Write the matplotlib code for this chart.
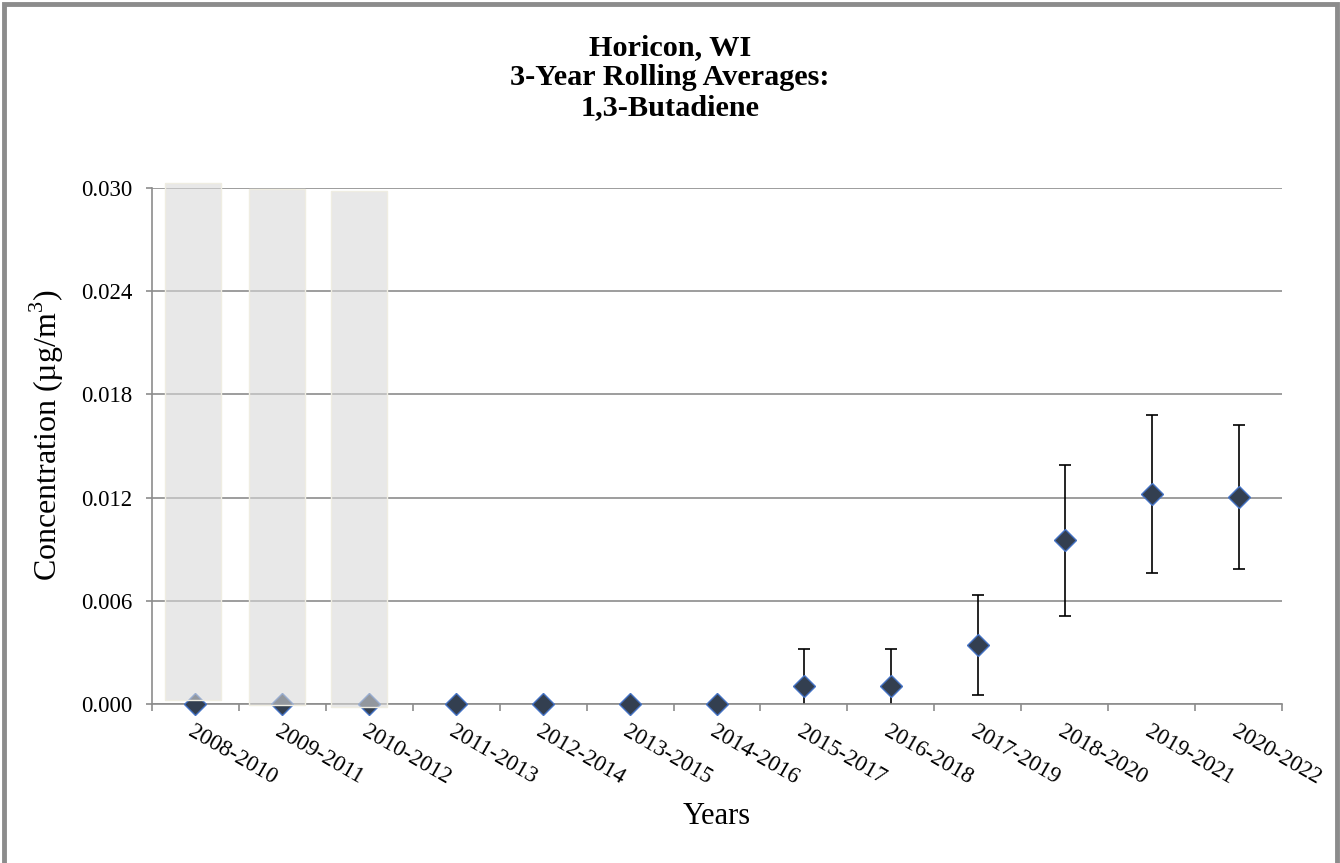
import numpy as np
import matplotlib.pyplot as plt
from matplotlib.patches import Rectangle

plt.rcParams['font.family'] = ['Liberation Serif', 'DejaVu Serif']
plt.rcParams['mathtext.fontset'] = 'custom'
plt.rcParams['mathtext.rm'] = 'Liberation Serif'

# data
periods = ['2008-2010', '2009-2011', '2010-2012', '2011-2013', '2012-2014',
           '2013-2015', '2014-2016', '2015-2017', '2016-2018', '2017-2019',
           '2018-2020', '2019-2021', '2020-2022']
averages = [0.0, 0.0, 0.0, 0.0, 0.0, 0.0, 0.0,
            0.00106, 0.00106, 0.00343, 0.00951, 0.01221, 0.01204]
errors = [0.0, 0.0, 0.0, 0.0, 0.0, 0.0, 0.0,
          0.00212, 0.00212, 0.0029, 0.0044, 0.0046, 0.0042]

# grey boxes over the first three periods (centre in category units, bottom, top)
box_pos = [-0.03, 0.94, 1.88]
box_bottom = [0.00025, -0.00006, -0.0002]
box_top = [0.0303, 0.02995, 0.0298]
yticks = [0.000, 0.006, 0.012, 0.018, 0.024, 0.030]

grey = '#8C8C8C'

fig = plt.figure(figsize=(13.4, 8.63), dpi=100)
ax = fig.add_axes([0.1134, 0.1842, 0.8433, 0.598])

x = np.arange(len(periods))
avg = np.array(averages)
err = np.array(errors)
has_err = err > 0

ax.errorbar(x[has_err], avg[has_err], yerr=err[has_err], fmt='none',
            ecolor='black', elinewidth=1.2, capsize=4.5, capthick=1.2, zorder=2)
ax.plot(x, avg, linestyle='none', marker='D', markersize=11,
        markerfacecolor='#333F50', markeredgecolor='#4472C4',
        markeredgewidth=1.0, zorder=3, clip_on=False)

heights = np.array(box_top) - np.array(box_bottom)
ax.bar(box_pos, heights, bottom=box_bottom, width=0.65,
       color=(0.847, 0.847, 0.847, 0.58), edgecolor='#EFEDE2',
       linewidth=1.0, zorder=4, clip_on=False)

ax.set_xlim(-0.5, len(periods) - 0.5)
ax.set_ylim(0, 0.030)
ax.set_yticks(yticks)
ax.set_yticklabels([f'{v:.3f}' for v in yticks], fontsize=16.5)
ax.set_xticks(x)
ax.set_xticklabels(periods, rotation=-30, ha='left', va='top',
                   rotation_mode='anchor', fontsize=16.5)
ax.set_xticks(np.arange(-0.5, len(periods)), minor=True)
ax.tick_params(axis='x', which='major', length=0, pad=12)
ax.tick_params(axis='x', which='minor', length=5, color=grey, width=1.2)
ax.tick_params(axis='y', length=4, color=grey, width=1.2, pad=10)

ax.grid(axis='y', color=grey, linewidth=1.2, zorder=0)
ax.set_axisbelow(True)
for side in ['top', 'right']:
    ax.spines[side].set_visible(False)
for side in ['left', 'bottom']:
    ax.spines[side].set_color(grey)
    ax.spines[side].set_linewidth(1.2)

ax.set_ylabel('Concentration (µg/m$^{\\mathrm{3}}$)', fontsize=23)
ax.yaxis.label.set_va('center')
ax.yaxis.set_label_coords(-0.093, 0.521)
ax.set_xlabel('Years', fontsize=22)
ax.xaxis.set_label_coords(0.5, -0.19)

fig.text(0.5, 0.96, 'Horicon, WI\n3-Year Rolling Averages:\n1,3-Butadiene',
         ha='center', va='top', fontsize=21.8, fontweight='bold', linespacing=1.14)

fig.patches.append(Rectangle((0.0028, -0.05), 0.9948, 1.045,
                             transform=fig.transFigure, fill=False,
                             edgecolor=grey, linewidth=3.5))

fig.savefig('out.png', dpi=100)
